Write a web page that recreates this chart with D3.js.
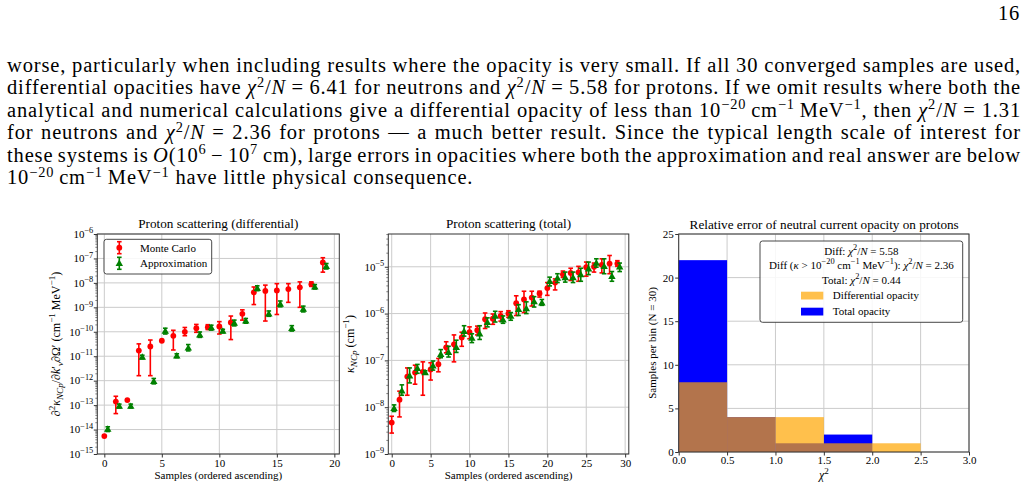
<!DOCTYPE html>
<html>
<head>
<meta charset="utf-8">
<script src="https://cdn.jsdelivr.net/npm/d3@7/dist/d3.min.js"></script>
<style>
  body { margin: 0; background: #fff; }
  #wrap { position: relative; width: 1028px; height: 490px; overflow: hidden;
          font-family: "Liberation Serif", "Times New Roman", serif; color: #000; }
  #pagenum { position: absolute; right: 8px; top: 2px; font-size: 20.5px; line-height: 22.5px; letter-spacing: 0.8px; }
  #para { position: absolute; left: 7px; top: 53.5px; width: 1014px; font-size: 20.5px; line-height: 22.5px; letter-spacing: 0.85px; }
  #para .ln { white-space: nowrap; height: 22.5px; }
  #para sup { font-size: 70%; vertical-align: baseline; position: relative; top: -0.5em; line-height: 0; }
  svg { position: absolute; left: 0; top: 0; }
</style>
</head>
<body>
<div id="wrap">
  <div id="pagenum">16</div>
  <div id="para">
    <div class="ln"><span>worse, particularly when including results where the opacity is very small. If all 30 converged samples are used,</span></div>
    <div class="ln"><span>differential opacities have <i>χ</i><sup>2</sup>/<i>N</i> = 6.41 for neutrons and <i>χ</i><sup>2</sup>/<i>N</i> = 5.58 for protons. If we omit results where both the</span></div>
    <div class="ln"><span>analytical and numerical calculations give a differential opacity of less than 10<sup>−20</sup>&thinsp;cm<sup>−1</sup>&thinsp;MeV<sup>−1</sup>, then <i>χ</i><sup>2</sup>/<i>N</i> = 1.31</span></div>
    <div class="ln"><span>for neutrons and <i>χ</i><sup>2</sup>/<i>N</i> = 2.36 for protons — a much better result. Since the typical length scale of interest for</span></div>
    <div class="ln"><span>these systems is <i>O</i>(10<sup>6</sup> − 10<sup>7</sup>&thinsp;cm), large errors in opacities where both the approximation and real answer are below</span></div>
    <div class="ln last"><span>10<sup>−20</sup>&thinsp;cm<sup>−1</sup>&thinsp;MeV<sup>−1</sup> have little physical consequence.</span></div>
  </div>
  <svg id="chart" width="1028" height="490"></svg>
</div>
<script>
// ---- proton scattering, differential opacity (20 samples) ----
const diffIdx  = d3.range(20);
const diffMC   = [5.4e-15, 1.4e-13, 1.6e-13, 1.7e-11, 2.5e-11, 4.3e-11, 6.8e-11, 1.0e-10, 1.4e-10, 1.55e-10,
                  1.65e-10, 2.4e-10, 5.4e-10, 4.1e-9, 4.7e-9, 4.9e-9, 5.6e-9, 6.6e-9, 8.7e-9, 6.9e-8];
const diffMCLo = [5.4e-15, 4.5e-14, 1.6e-13, 1.6e-12, 1.6e-12, 4.3e-11, 1.8e-11, 6.9e-11, 9.5e-11, 1.23e-10,
                  8.1e-11, 4.8e-11, 3.0e-10, 1.3e-9, 2.75e-10, 5.1e-10, 1.6e-9, 1.0e-9, 7.2e-9, 2.75e-8];
const diffMCHi = [5.4e-15, 2.3e-13, 1.6e-13, 3.2e-11, 4.6e-11, 4.3e-11, 1.15e-10, 1.5e-10, 2.0e-10, 1.95e-10,
                  2.6e-10, 4.4e-10, 7.9e-10, 6.8e-9, 8.1e-9, 9.3e-9, 9.3e-9, 1.1e-8, 1.1e-8, 1.07e-7];
const diffAp   = [1.05e-14, 9.1e-14, 9.1e-14, 9.3e-12, 9.5e-13, 1.07e-10, 1.05e-11, 2.2e-11, 7.6e-11, 1.48e-10,
                  1.07e-10, 2.3e-10, 2.8e-10, 6.0e-9, 5.5e-10, 1.38e-9, 1.38e-10, 8.5e-10, 6.9e-9, 4.8e-8];
const diffApLo = [8.3e-15, 7.6e-14, 7.6e-14, 7.8e-12, 7.4e-13, 8.1e-11, 8.7e-12, 1.65e-11, 5.9e-11, 1.17e-10,
                  9.1e-11, 1.74e-10, 2.24e-10, 4.8e-9, 4.3e-10, 1.05e-9, 1.07e-10, 6.5e-10, 5.6e-9, 3.7e-8];
const diffApHi = [1.3e-14, 1.1e-13, 1.1e-13, 1.1e-11, 1.23e-12, 1.4e-10, 1.26e-11, 3.0e-11, 9.8e-11, 1.86e-10,
                  1.26e-10, 3.0e-10, 3.5e-10, 7.6e-9, 7.1e-10, 1.82e-9, 1.78e-10, 1.12e-9, 8.5e-9, 6.2e-8];

// ---- proton scattering, total opacity (30 samples) ----
const totIdx  = d3.range(30);
const totMC   = [4.7e-9, 1.45e-8, 4.5e-8, 5.5e-8, 5.7e-8, 6.4e-8, 8.3e-8, 1.9e-7, 2.2e-7, 3.1e-7,
                 4.0e-7, 4.4e-7, 7.6e-7, 7.8e-7, 8.9e-7, 1.0e-6, 1.66e-6, 2.0e-6, 2.2e-6, 2.7e-6,
                 3.5e-6, 4.6e-6, 6.9e-6, 7.4e-6, 7.6e-6, 9.8e-6, 1.0e-5, 1.1e-5, 1.17e-5, 1.17e-5];
const totMCLo = [2.8e-9, 6.2e-9, 1.8e-8, 3.1e-8, 1.8e-8, 3.8e-8, 5.7e-8, 1.45e-7, 9.3e-8, 2.0e-7,
                 2.9e-7, 3.5e-7, 4.8e-7, 5.9e-7, 6.9e-7, 8.3e-7, 9.1e-7, 1.05e-6, 1.45e-6, 2.25e-6,
                 2.45e-6, 3.2e-6, 5.9e-6, 5.1e-6, 4.9e-6, 6.3e-6, 7.7e-6, 7.4e-6, 7.1e-6, 1.02e-5];
const totMCHi = [6.4e-9, 2.2e-8, 6.9e-8, 7.9e-8, 9.3e-8, 8.9e-8, 1.1e-7, 2.5e-7, 3.5e-7, 4.0e-7,
                 5.2e-7, 5.4e-7, 1.03e-6, 9.8e-7, 1.1e-6, 1.15e-6, 2.4e-6, 3.0e-6, 3.0e-6, 3.0e-6,
                 4.6e-6, 5.5e-6, 8.1e-6, 9.3e-6, 1.02e-5, 1.26e-5, 1.2e-5, 1.48e-5, 1.74e-5, 1.35e-5];
const totAp   = [9.5e-9, 2.25e-8, 4.7e-8, 6.8e-8, 5.5e-8, 7.7e-8, 1.36e-7, 1.5e-7, 1.9e-7, 4.2e-7,
                 3.0e-7, 3.7e-7, 6.5e-7, 8.9e-7, 7.4e-7, 8.9e-7, 1.23e-6, 1.29e-6, 1.82e-6, 1.7e-6,
                 4.9e-6, 5.75e-6, 5.9e-6, 5.9e-6, 6.8e-6, 9.1e-6, 1.2e-5, 1.02e-5, 6.3e-6, 1.0e-5];
const totApLo = [8.1e-9, 1.8e-8, 3.3e-8, 5.3e-8, 5.1e-8, 6.2e-8, 1.14e-7, 1.18e-7, 1.48e-7, 3.3e-7,
                 2.4e-7, 2.8e-7, 5.2e-7, 6.6e-7, 6.2e-7, 7.2e-7, 9.1e-7, 1.0e-6, 1.38e-6, 1.5e-6,
                 3.9e-6, 4.6e-6, 4.7e-6, 4.6e-6, 4.9e-6, 6.8e-6, 9.8e-6, 7.1e-6, 4.9e-6, 7.9e-6];
const totApHi = [1.12e-8, 3.0e-8, 6.9e-8, 8.2e-8, 6.0e-8, 9.7e-8, 1.7e-7, 2.0e-7, 2.7e-7, 5.5e-7,
                 3.7e-7, 5.5e-7, 8.1e-7, 1.12e-6, 8.9e-7, 1.05e-6, 1.55e-6, 1.78e-6, 2.3e-6, 2.0e-6,
                 6.0e-6, 7.1e-6, 7.7e-6, 7.7e-6, 9.3e-6, 1.26e-5, 1.48e-5, 1.48e-5, 7.9e-6, 1.2e-5];
const apShift = 0.3;   // approximation points are drawn slightly to the right

// ---- chi^2 histogram ----
const histEdges = [0, 0.5, 1.0, 1.5, 2.0, 2.5, 3.0];
const histDiff  = [8, 4, 4, 1, 1, 0];
const histTotal = [22, 4, 1, 2, 0, 0];
const histLegend = ['Diff: *χ*^{2}/*N* = 5.58',
                    'Diff (*κ* > 10^{−20} cm^{−1} MeV^{−1}): *χ*^{2}/*N* = 2.36',
                    'Total: *χ*^{2}/*N* = 0.44'];

const FONT = '"Liberation Serif","Times New Roman",serif';
const FS = 11;
const GRID = '#cbcbcb', SPINE = '#333';
const RED = '#ff0000', GREEN = '#008000', BLUE = '#0000ff', ORANGE = '#ffa500';

// justify the paragraph lines to the text width
d3.selectAll('#para .ln').each(function() {
    if (this.classList.contains('last')) return;
    const span = this.firstElementChild;
    const w = span.getBoundingClientRect().width;
    const n = (span.textContent.match(/ /g) || []).length;
    span.style.wordSpacing = ((1014 - w) / n) + 'px';
});

const svg = d3.select('#chart').attr('font-family', FONT);

/**
 * tiny markup: ^{..} superscript, _{..} subscript, *..* italic,
 * a leading * inside the braces makes the script italic
 */
function richText(sel, str, fs, scr) {
    scr = scr || 0.7;
    let shift = 0;
    str.split(/(\^\{[^}]*\}|_\{[^}]*\}|\*[^*]+\*)/).forEach(function(tok) {
        if (!tok) return;
        let mode = 0, t = tok, ital = false;
        if (tok[0] === '^') { mode = -0.42; t = tok.slice(2, -1); }
        else if (tok[0] === '_') { mode = 0.25; t = tok.slice(2, -1); }
        else if (tok[0] === '*') { t = tok.slice(1, -1); ital = true; }
        if (mode !== 0 && t[0] === '*') { ital = true; t = t.slice(1); }
        const ts = sel.append('tspan').text(t).attr('dy', ((mode - shift) * fs).toFixed(2));
        if (mode !== 0) ts.attr('font-size', (fs * scr).toFixed(2));
        if (ital) ts.attr('font-style', 'italic');
        shift = mode;
    });
    return sel;
}

function styleAxis(a) {
    a.select('.domain').remove();
    a.selectAll('line').attr('stroke', SPINE);
    a.selectAll('text').attr('font-family', FONT).attr('font-size', FS).attr('fill', '#000');
}

function frame(g, b) {
    g.append('rect')
        .attr('x', b.left).attr('y', b.top)
        .attr('width', b.right - b.left).attr('height', b.bottom - b.top)
        .attr('fill', 'none').attr('stroke', SPINE).attr('stroke-width', 1);
}

function gridLines(g, x, y, xt, yt, b) {
    const gg = g.append('g').attr('stroke', GRID).attr('stroke-width', 1);
    gg.selectAll('.gx').data(xt).join('line')
        .attr('x1', d => x(d)).attr('x2', d => x(d)).attr('y1', b.top).attr('y2', b.bottom);
    gg.selectAll('.gy').data(yt).join('line')
        .attr('y1', d => y(d)).attr('y2', d => y(d)).attr('x1', b.left).attr('x2', b.right);
}

function errSeries(g, x, y, xs, v, lo, hi, color, marker) {
    const pts = xs.map((xi, i) => ({x: xi, v: v[i], lo: lo[i], hi: hi[i]}));
    const eg = g.append('g').attr('stroke', color).attr('stroke-width', 1.6);
    pts.filter(d => d.hi > d.lo).forEach(function(d) {
        const cx = x(d.x);
        eg.append('line').attr('x1', cx).attr('x2', cx).attr('y1', y(d.lo)).attr('y2', y(d.hi));
        [d.lo, d.hi].forEach(function(e) {
            eg.append('line').attr('x1', cx - 2.3).attr('x2', cx + 2.3).attr('y1', y(e)).attr('y2', y(e));
        });
    });
    drawMarkers(g, pts.map(d => [x(d.x), y(d.v)]), color, marker);
}

function drawMarkers(g, xy, color, marker) {
    if (marker === 'circle') {
        g.append('g').selectAll('circle').data(xy).join('circle')
            .attr('cx', d => d[0]).attr('cy', d => d[1]).attr('r', 2.9).attr('fill', color);
    } else {
        const tri = d3.symbol(d3.symbolTriangle).size(24);
        g.append('g').selectAll('path').data(xy).join('path')
            .attr('d', tri).attr('transform', d => 'translate(' + d[0] + ',' + (d[1] + 0.6) + ')')
            .attr('fill', color);
    }
}

function logPanel(o) {
    const b = o.box;
    const x = d3.scaleLinear().domain(o.xDomain).range([b.left, b.right]);
    const y = d3.scaleLog().domain(o.yDomain).range([b.bottom, b.top]);
    const g = svg.append('g');
    const lo = o.yDomain[0], hi = o.yDomain[1];
    const e0 = Math.floor(Math.log10(lo)), e1 = Math.ceil(Math.log10(hi));
    const major = d3.range(e0, e1 + 1).map(e => Math.pow(10, e)).filter(v => v >= lo * 0.999 && v <= hi * 1.001);
    const minor = [];
    d3.range(e0, e1 + 1).forEach(function(e) {
        for (let k = 2; k < 10; k++) {
            const v = k * Math.pow(10, e);
            if (v > lo && v < hi) minor.push(v);
        }
    });

    gridLines(g, x, y, o.xTicks, major, b);

    const ax = g.append('g').attr('transform', 'translate(0,' + b.bottom + ')')
        .call(d3.axisBottom(x).tickValues(o.xTicks).tickSize(3.5).tickPadding(2).tickFormat(d3.format('d')));
    styleAxis(ax);
    const ay = g.append('g').attr('transform', 'translate(' + b.left + ',0)')
        .call(d3.axisLeft(y).tickValues(major).tickSize(3.5).tickFormat(''));
    styleAxis(ay);
    const am = g.append('g').attr('transform', 'translate(' + b.left + ',0)')
        .call(d3.axisLeft(y).tickValues(minor).tickSize(2).tickFormat(''));
    styleAxis(am);
    am.selectAll('line').attr('stroke-width', 0.6);

    major.forEach(function(v) {
        const ex = Math.round(Math.log10(v));
        const t = g.append('text').attr('x', b.left - 4).attr('y', y(v) + 3.8)
            .attr('text-anchor', 'end').attr('font-size', FS);
        richText(t, '10^{' + String(ex).replace('-', '−') + '}', FS, 0.76);
    });

    errSeries(g, x, y, o.idx, o.mc, o.mcLo, o.mcHi, RED, 'circle');
    errSeries(g, x, y, o.idx.map(i => i + apShift), o.ap, o.apLo, o.apHi, GREEN, 'triangle');

    frame(g, b);

    g.append('text').attr('x', (b.left + b.right) / 2).attr('y', 228)
        .attr('text-anchor', 'middle').attr('font-size', 13.2).text(o.title);
    g.append('text').attr('x', (b.left + b.right) / 2).attr('y', 479)
        .attr('text-anchor', 'middle').attr('font-size', FS).text('Samples (ordered ascending)');
    const yl = g.append('text').attr('text-anchor', 'middle').attr('font-size', 12)
        .attr('transform', 'translate(' + o.ylabelX + ',' + ((b.top + b.bottom) / 2) + ') rotate(-90)');
    richText(yl, o.ylabel, 12, 0.76);
    return g;
}

// ---- panel 1 ----
const g1 = logPanel({
    box: {left: 97.3, right: 339.3, top: 234, bottom: 454},
    xDomain: [-0.61, 20.43], yDomain: [1e-15, 1e-6],
    xTicks: [0, 5, 10, 15, 20],
    idx: diffIdx, mc: diffMC, mcLo: diffMCLo, mcHi: diffMCHi,
    ap: diffAp, apLo: diffApLo, apHi: diffApHi,
    title: 'Proton scattering (differential)',
    ylabel: '∂^{2}*κ*_{*NCp}/∂*k*′_{*ν}∂Ω′ (cm^{−1} MeV^{−1})', ylabelX: 60
});

// legend of panel 1
const leg1 = g1.append('g');
leg1.append('rect').attr('x', 104).attr('y', 239.3).attr('width', 107.7).attr('height', 34.7)
    .attr('rx', 2.5).attr('fill', '#fff').attr('fill-opacity', 0.85).attr('stroke', SPINE).attr('stroke-width', 0.9);
[['Monte Carlo', RED, 'circle', 247.7], ['Approximation', GREEN, 'triangle', 263.3]].forEach(function(e) {
    const cy = e[3], cx = 119.3;
    const lg = leg1.append('g').attr('stroke', e[1]).attr('stroke-width', 1.6);
    lg.append('line').attr('x1', cx).attr('x2', cx).attr('y1', cy - 6).attr('y2', cy + 6);
    lg.append('line').attr('x1', cx - 2.3).attr('x2', cx + 2.3).attr('y1', cy - 6).attr('y2', cy - 6);
    lg.append('line').attr('x1', cx - 2.3).attr('x2', cx + 2.3).attr('y1', cy + 6).attr('y2', cy + 6);
    drawMarkers(leg1, [[cx, cy]], e[1], e[2]);
    leg1.append('text').attr('x', 140).attr('y', cy + 3.9).attr('font-size', FS).text(e[0]);
});

// ---- panel 2 ----
logPanel({
    box: {left: 388.3, right: 628.8, top: 234, bottom: 454},
    xDomain: [-0.44, 30.47], yDomain: [1e-9, Math.pow(10, -4.3)],
    xTicks: [0, 5, 10, 15, 20, 25, 30],
    idx: totIdx, mc: totMC, mcLo: totMCLo, mcHi: totMCHi,
    ap: totAp, apLo: totApLo, apHi: totApHi,
    title: 'Proton scattering (total)',
    ylabel: '*κ*_{*NCp} (cm^{−1})', ylabelX: 354
});

// ---- panel 3: histogram ----
(function() {
    const b = {left: 678.7, right: 969, top: 234, bottom: 452};
    const x = d3.scaleLinear().domain([0, 3]).range([b.left, b.right]);
    const y = d3.scaleLinear().domain([0, 25]).range([b.bottom, b.top]);
    const g = svg.append('g');
    const xt = [0, 0.5, 1.0, 1.5, 2.0, 2.5, 3.0], yt = [0, 5, 10, 15, 20, 25];
    gridLines(g, x, y, xt, yt, b);

    const bins = histTotal.map((c, i) => ({x0: histEdges[i], x1: histEdges[i + 1], tot: c, diff: histDiff[i]}));
    g.append('g').selectAll('rect').data(bins).join('rect')
        .attr('x', d => x(d.x0)).attr('width', d => x(d.x1) - x(d.x0))
        .attr('y', d => y(d.tot)).attr('height', d => y(0) - y(d.tot))
        .attr('fill', BLUE);
    g.append('g').selectAll('rect').data(bins).join('rect')
        .attr('x', d => x(d.x0)).attr('width', d => x(d.x1) - x(d.x0))
        .attr('y', d => y(d.diff)).attr('height', d => y(0) - y(d.diff))
        .attr('fill', ORANGE).attr('fill-opacity', 0.7);

    const ax = g.append('g').attr('transform', 'translate(0,' + b.bottom + ')')
        .call(d3.axisBottom(x).tickValues(xt).tickSize(3.5).tickPadding(1).tickFormat(d3.format('.1f')));
    styleAxis(ax);
    const ay = g.append('g').attr('transform', 'translate(' + b.left + ',0)')
        .call(d3.axisLeft(y).tickValues(yt).tickSize(3.5).tickPadding(1.5));
    styleAxis(ay);
    frame(g, b);

    g.append('text').attr('x', 824.2).attr('y', 229).attr('text-anchor', 'middle')
        .attr('font-size', 13.2).text('Relative error of neutral current opacity on protons');
    richText(g.append('text').attr('x', (b.left + b.right) / 2).attr('y', 479)
        .attr('text-anchor', 'middle').attr('font-size', 12), '*χ*^{2}', 12, 0.76);
    g.append('text').attr('text-anchor', 'middle').attr('font-size', FS)
        .attr('transform', 'translate(656,' + ((b.top + b.bottom) / 2) + ') rotate(-90)')
        .text('Samples per bin (N = 30)');

    // legend
    const lg = g.append('g');
    lg.append('rect').attr('x', 760).attr('y', 241).attr('width', 202.7).attr('height', 81.3)
        .attr('rx', 2.5).attr('fill', '#fff').attr('fill-opacity', 0.85)
        .attr('stroke', SPINE).attr('stroke-width', 0.9);
    [255, 269, 283.5].forEach(function(by, i) {
        richText(lg.append('text').attr('x', 861.4).attr('y', by)
            .attr('text-anchor', 'middle').attr('font-size', FS), histLegend[i], FS, 0.76);
    });
    [['Differential opacity', ORANGE, 0.7, 291.7], ['Total opacity', BLUE, 1, 307.7]].forEach(function(e) {
        lg.append('rect').attr('x', 801).attr('y', e[3]).attr('width', 22.3).attr('height', 7.8)
            .attr('fill', e[1]).attr('fill-opacity', e[2]);
        lg.append('text').attr('x', 832.7).attr('y', e[3] + 7.3).attr('font-size', FS).text(e[0]);
    });
})();
</script>
</body>
</html>
